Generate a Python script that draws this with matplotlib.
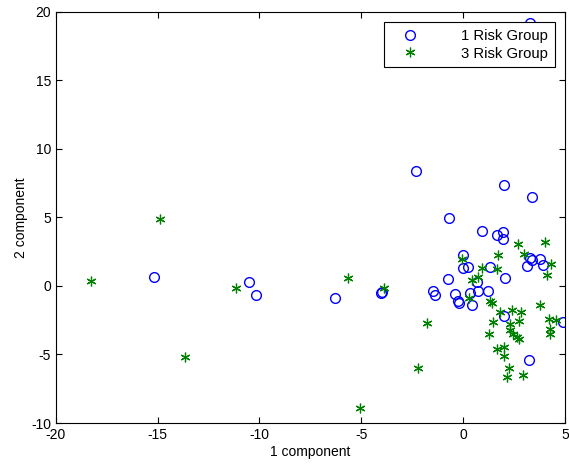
import numpy as np
import matplotlib
matplotlib.use('Agg')
import matplotlib.pyplot as plt

plt.rcParams['font.family'] = ['Liberation Sans', 'DejaVu Sans']
plt.rcParams['axes.unicode_minus'] = False

# 1 Risk Group (circles)
g1_x = [-15.2, -10.5, -10.19, -6.28, -4.05, -4.0, -2.32, 2.0, 3.38, -0.68,
        0.94, 1.65, 1.94, 1.94, 0.01, 3.28, 3.36, 3.15, 3.79, 3.94,
        0.01, 0.26, 1.33, 2.04, -0.73, 0.66, -1.5, -1.37, -0.4, -0.24,
        -0.2, 0.33, 0.71, 1.23, 0.42, 2.0, 4.92, 3.24, 3.28]
g1_y = [0.65, 0.32, -0.68, -0.85, -0.55, -0.44, 8.4, 7.33, 6.47, 4.96,
        4.01, 3.72, 3.94, 3.41, 2.24, 2.07, 1.88, 1.44, 1.97, 1.53,
        1.29, 1.36, 1.36, 0.56, 0.49, 0.29, -0.36, -0.66, -0.56, -1.12,
        -1.21, -0.53, -0.39, -0.39, -1.36, -2.19, -2.63, -5.42, 19.2]

# 3 Risk Group (stars)
g3_x = [-18.28, -14.88, -13.66, -11.16, -5.64, -5.05, -3.88, 2.68, 4.02, 3.0,
        -0.04, 1.69, 4.31, 4.13, 0.94, 1.66, 0.42, 0.71, 0.3, 1.32,
        1.43, -1.76, 1.81, 2.41, 2.82, 1.48, 2.76, 2.28, 3.79, 4.2,
        4.56, 4.26, 4.28, 1.25, 2.28, 2.46, 2.65, 2.73, 2.0, 1.65,
        2.0, 2.24, -2.2, 2.16, 2.94]
g3_y = [0.37, 4.85, -5.18, -0.17, 0.56, -8.88, -0.17, 3.09, 3.19, 2.31,
        1.97, 2.22, 1.6, 0.8, 1.34, 1.27, 0.42, 0.66, -0.85, -1.07,
        -1.24, -2.7, -1.9, -1.77, -1.87, -2.65, -2.55, -2.81, -1.39, -2.38,
        -2.47, -3.11, -3.5, -3.5, -3.25, -3.47, -3.72, -3.9, -4.42, -4.62,
        -5.11, -6.0, -5.99, -6.66, -6.5]

fig = plt.figure(figsize=(5.69, 4.69), dpi=100)
ax = fig.add_axes([0.098, 0.098, 0.895, 0.877])

ax.plot(g1_x, g1_y, 'o', color='#0000ff', markerfacecolor='none',
        markersize=7, markeredgewidth=1.0, label='1 Risk Group')
ax.plot(g3_x, g3_y, linestyle='none', marker=(6, 2, 0), color='#008000',
        markersize=7, markeredgewidth=0.9, label='3 Risk Group')

ax.set_xlim(-20, 5)
ax.set_ylim(-10, 20)
ax.set_xticks(np.arange(-20, 6, 5))
ax.set_yticks(np.arange(-10, 21, 5))
ax.tick_params(direction='in', top=True, right=True, labelsize=10, length=4)
ax.set_xlabel('1 component', fontsize=10, labelpad=2)
ax.set_ylabel('2 component', fontsize=10, labelpad=2)

leg = ax.legend(loc='upper right', fontsize=10.7, frameon=True, fancybox=False,
                edgecolor='black', framealpha=1, handletextpad=2.15,
                borderaxespad=0.7, borderpad=0.45, labelspacing=0.25,
                handlelength=2.6)
leg.get_frame().set_linewidth(0.8)

fig.savefig('out.png', dpi=100)
